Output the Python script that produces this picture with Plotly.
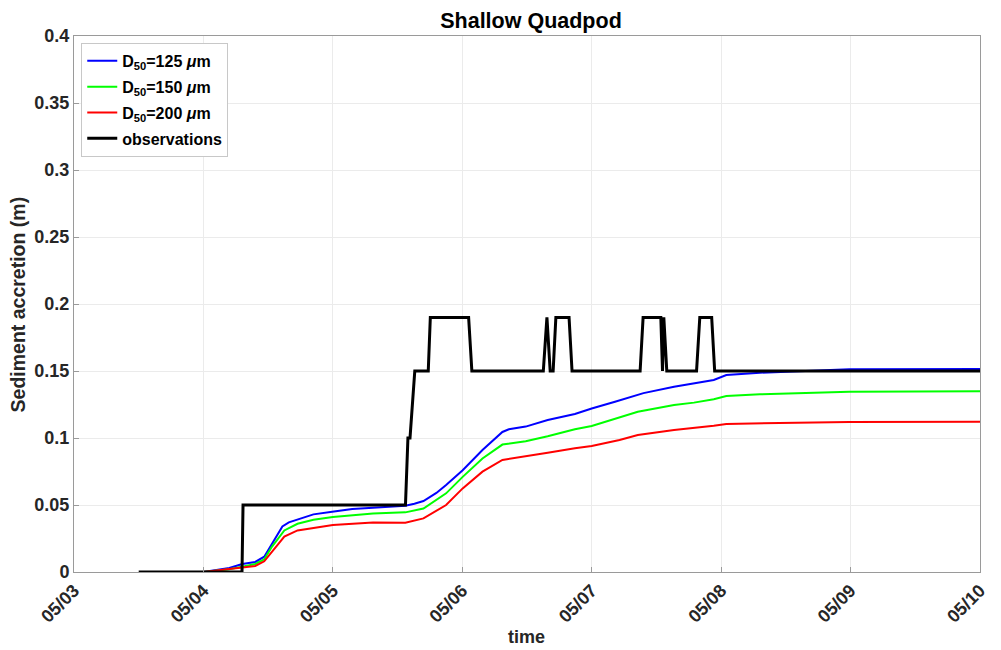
import pandas as pd
import plotly.graph_objects as go

# Time axis: days elapsed since 05/03 00:00
base = pd.Timestamp("2013-05-03")

obs_days = [0.50, 1.298, 1.306, 2.561, 2.580, 2.596, 2.633, 2.737, 2.753, 3.049,
            3.074, 3.626, 3.654, 3.679, 3.702, 3.723, 3.825, 3.848, 4.374, 4.397,
            4.534, 4.547, 4.557, 4.580, 4.810, 4.835, 4.927, 4.950, 7.0]
obs_vals = [0.0, 0.0, 0.05, 0.05, 0.10, 0.10, 0.15, 0.15, 0.19, 0.19,
            0.15, 0.15, 0.19, 0.15, 0.15, 0.19, 0.19, 0.15, 0.15, 0.19,
            0.19, 0.15, 0.19, 0.15, 0.15, 0.19, 0.19, 0.15, 0.15]

d125_days = [1.0, 1.20, 1.30, 1.40, 1.47, 1.53, 1.61, 1.66, 1.727, 1.85, 1.995,
             2.15, 2.31, 2.56, 2.63, 2.70, 2.80, 2.875, 3.003, 3.156, 3.31, 3.36,
             3.49, 3.66, 3.87, 4.0, 4.18, 4.356, 4.40, 4.636, 4.943, 5.04, 5.30,
             5.99, 7.0]
d125_vals = [0.0, 0.003, 0.006, 0.0075, 0.0114, 0.021, 0.034, 0.037, 0.039, 0.043,
             0.045, 0.047, 0.048, 0.0495, 0.051, 0.053, 0.059, 0.065, 0.076, 0.091,
             0.1045, 0.1065, 0.1085, 0.1134, 0.1179, 0.122, 0.127, 0.1325, 0.1335,
             0.1383, 0.1433, 0.147, 0.1487, 0.1513, 0.1515]

d150_days = [1.0, 1.20, 1.30, 1.40, 1.47, 1.53, 1.625, 1.727, 1.85, 2.0, 2.31,
             2.56, 2.70, 2.72, 2.875, 3.003, 3.156, 3.31, 3.36, 3.49, 3.66, 3.87,
             4.0, 4.356, 4.636, 4.79, 4.943, 5.04, 5.30, 5.99, 7.0]
d150_vals = [0.0, 0.002, 0.004, 0.006, 0.0095, 0.019, 0.031, 0.036, 0.039, 0.041,
             0.0436, 0.0445, 0.0474, 0.0487, 0.0587, 0.071, 0.0847, 0.0951, 0.0958,
             0.0976, 0.1013, 0.1065, 0.109, 0.1196, 0.1246, 0.1264, 0.1289, 0.1313,
             0.1326, 0.1346, 0.1348]

d200_days = [1.0, 1.30, 1.40, 1.47, 1.53, 1.625, 1.727, 2.0, 2.31, 2.56, 2.70,
             2.72, 2.875, 3.003, 3.156, 3.31, 3.49, 3.66, 3.87, 4.0, 4.215, 4.356,
             4.636, 4.79, 4.943, 5.04, 5.99, 7.0]
d200_vals = [0.0, 0.003, 0.0045, 0.008, 0.015, 0.0264, 0.031, 0.035, 0.037, 0.0368,
             0.040, 0.0412, 0.050, 0.0624, 0.0749, 0.0836, 0.0861, 0.089, 0.0923,
             0.094, 0.0985, 0.1022, 0.106, 0.1075, 0.1092, 0.1105, 0.112, 0.1122]

tick_days = [0, 1, 2, 3, 4, 5, 6, 7]
y_ticks = [0, 0.05, 0.1, 0.15, 0.2, 0.25, 0.3, 0.35, 0.4]
y_labels = ["0", "0.05", "0.1", "0.15", "0.2", "0.25", "0.3", "0.35", "0.4"]


def to_time(days):
    return [base + pd.Timedelta(days=d) for d in days]


FONT = "Liberation Sans, Arial, Helvetica, sans-serif"
TXT = "#262626"
AX = "#9a9a9a"

fig = go.Figure()
series = [
    (d125_days, d125_vals, "#0000ff", 2, "<b>D<sub>50</sub>=125 <i>μ</i>m</b>"),
    (d150_days, d150_vals, "#00ff00", 2, "<b>D<sub>50</sub>=150 <i>μ</i>m</b>"),
    (d200_days, d200_vals, "#ff0000", 2, "<b>D<sub>50</sub>=200 <i>μ</i>m</b>"),
    (obs_days, obs_vals, "#000000", 3, "<b>observations</b>"),
]
for i, (days, vals, color, width, name) in enumerate(series):
    fig.add_trace(go.Scatter(
        x=to_time(days), y=vals, mode="lines", name=name,
        legendgroup=f"g{i}",
        line=dict(color=color, width=width),
    ))

fig.update_layout(
    width=1001, height=650,
    margin=dict(l=74, r=13, t=36, b=78),
    paper_bgcolor="white", plot_bgcolor="white",
    font=dict(family=FONT, size=18, color=TXT),
    title=dict(text="<b>Shallow Quadpod</b>", x=(74 + 988) / 2 / 1001,
               xanchor="center", y=1 - 20 / 650, yanchor="middle",
               font=dict(size=21.5, color="#000000")),
    legend=dict(x=0.008, y=0.987, xanchor="left", yanchor="top",
                bgcolor="white", bordercolor="#c8c8c8", borderwidth=1,
                font=dict(size=16, color="#000000"), tracegroupgap=2,
                itemwidth=30),
    showlegend=True,
)

fig.update_xaxes(
    type="date",
    range=[base, base + pd.Timedelta(days=7)],
    tickvals=to_time(tick_days), tickformat="%m/%d",
    tickangle=-45, tickfont=dict(size=18, color=TXT, weight="bold"),
    showgrid=True, gridcolor="#ebebeb", gridwidth=1,
    showline=True, linecolor=AX, linewidth=1, mirror=True,
    ticks="inside", ticklen=5, tickcolor=AX,
    zeroline=False,
)
fig.update_yaxes(
    range=[0, 0.4], tickvals=y_ticks, ticktext=y_labels,
    tickfont=dict(size=18, color=TXT, weight="bold"),
    showgrid=True, gridcolor="#ebebeb", gridwidth=1,
    showline=True, linecolor=AX, linewidth=1, mirror=True,
    ticks="inside", ticklen=5, tickcolor=AX,
    zeroline=False,
)

# Axis titles placed as annotations
fig.add_annotation(text="<b>time</b>", xref="paper", yref="paper",
                   x=(530 - 74) / 913.5, y=-(637 - 572) / 536,
                   xanchor="center", yanchor="middle",
                   showarrow=False, font=dict(size=18, color=TXT))
fig.add_annotation(text="<b>Sediment accretion (m)</b>", xref="paper", yref="paper",
                   x=-(74 - 18) / 913.5, y=0.5, xanchor="center", yanchor="middle",
                   textangle=-90, showarrow=False, font=dict(size=19.5, color=TXT))

fig.write_html("out.html")
